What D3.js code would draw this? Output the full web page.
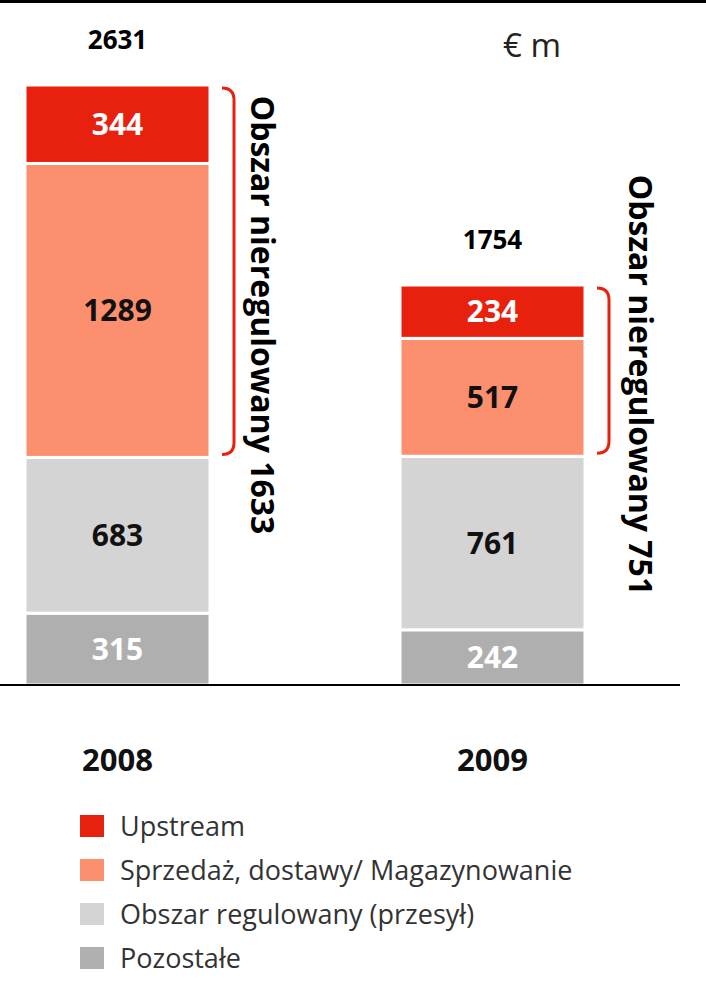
<!DOCTYPE html>
<html><head><meta charset="utf-8">
<script src="https://d3js.org/d3.v7.min.js"></script>
<style>body{margin:0;background:#fff}</style></head>
<body><svg id="c" width="706" height="1003"></svg>
<script>
const years = ["2008","2009"];
const series = ["Pozostałe","Obszar regulowany (przesył)","Sprzedaż, dostawy/ Magazynowanie","Upstream"];
const pozostale = [315,242];
const regulowany = [683,761];
const sprzedaz = [1289,517];
const upstream = [344,234];
const totals = [2631,1754];
const nieregulowany = [1633,751];
const legendLabels = ["Upstream","Sprzedaż, dostawy/ Magazynowanie","Obszar regulowany (przesył)","Pozostałe"];
const colors = {"Upstream":"#e8200e","Sprzedaż, dostawy/ Magazynowanie":"#fb8f6e","Obszar regulowany (przesył)":"#d4d4d4","Pozostałe":"#afafaf"};
const labelColors = {"Upstream":"#fff","Sprzedaż, dostawy/ Magazynowanie":"#111","Obszar regulowany (przesył)":"#111","Pozostałe":"#fff"};
const vals = [pozostale,regulowany,sprzedaz,upstream];

const svg = d3.select("#c");
const y = d3.scaleLinear().domain([0,2631]).range([685,85]);
const x = d3.scaleOrdinal().domain(years).range([25,400]);
const bw = 185;
const F = "'Open Sans', sans-serif";
const N = "'Liberation Sans Narrow', 'Open Sans', sans-serif";

svg.append("line").attr("x1",0).attr("x2",706).attr("y1",1.5).attr("y2",1.5).attr("stroke","#000").attr("stroke-width",3);

years.forEach((yr,i)=>{
  let cum=0;
  series.forEach((s,k)=>{
    const v=vals[k][i];
    const y0=y(cum), y1=y(cum+v);
    svg.append("rect").attr("x",x(yr)).attr("width",bw).attr("y",y1).attr("height",y0-y1)
      .attr("fill",colors[s]).attr("stroke","#fff").attr("stroke-width",3);
    svg.append("text").attr("x",x(yr)+bw/2).attr("y",(y0+y1)/2).attr("dy","0.35em")
      .attr("text-anchor","middle").attr("font-family",F).attr("font-weight","bold")
      .attr("font-size",30).attr("fill",labelColors[s]).text(v);
    cum+=v;
  });
  svg.append("text").attr("x",x(yr)+bw/2).attr("y",y(totals[i])-45).attr("dy","0.35em")
    .attr("text-anchor","middle").attr("font-family",F).attr("font-weight","bold")
    .attr("font-size",26).attr("fill","#000").text(totals[i]);
  svg.append("text").attr("x",x(yr)+bw/2).attr("y",760).attr("dy","0.35em")
    .attr("text-anchor","middle").attr("font-family",F).attr("font-weight","bold")
    .attr("font-size",31).attr("fill","#111").text(yr);
  const top=y(totals[i])+3, bot=y(pozostale[i]+regulowany[i])-3;
  const bx=x(yr)+bw+12;
  svg.append("path").attr("d",`M${bx},${top} Q${bx+12},${top} ${bx+12},${top+12} L${bx+12},${bot-12} Q${bx+12},${bot} ${bx},${bot}`)
    .attr("fill","none").attr("stroke","#e8200e").attr("stroke-width",3);
  const tx = i===0 ? 262 : 640;
  const ty = i===0 ? 315 : 385;
  svg.append("text").attr("transform",`translate(${tx},${ty}) rotate(90)`).attr("dy","0.35em")
    .attr("text-anchor","middle").attr("font-family",N).attr("font-weight","bold")
    .attr("font-size",32).attr("fill","#000").text("Obszar nieregulowany "+nieregulowany[i]);
});

svg.append("line").attr("x1",0).attr("x2",680).attr("y1",685).attr("y2",685).attr("stroke","#000").attr("stroke-width",2);
svg.append("text").attr("x",503).attr("y",45).attr("dy","0.35em").attr("font-family",F)
  .attr("font-size",33).attr("fill","#222").text("€ m");

legendLabels.forEach((l,i)=>{
  const ly=827+i*44;
  svg.append("rect").attr("x",80).attr("y",ly-12).attr("width",24).attr("height",22).attr("fill",colors[l]);
  svg.append("text").attr("x",120).attr("y",ly).attr("dy","0.35em").attr("font-family",F)
    .attr("font-size",27).attr("fill","#333").text(l);
});
</script></body></html>
